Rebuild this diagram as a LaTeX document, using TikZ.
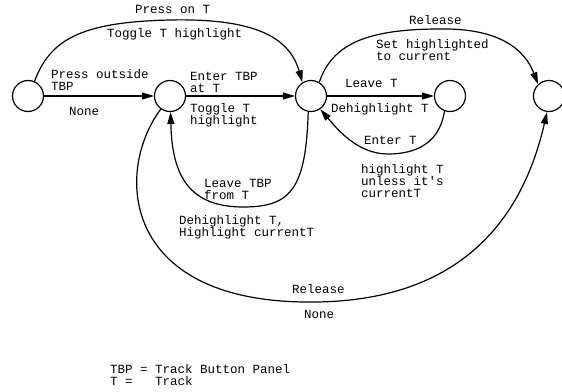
\documentclass[tikz,border=0pt]{standalone}
\usepackage{fontspec}
\setmonofont{Liberation Mono}
\usetikzlibrary{arrows.meta}
\begin{document}
\begin{tikzpicture}[x=1pt,y=-1pt,
  state/.style={circle,draw,line width=1.2pt,minimum size=31pt,inner sep=0pt},
  edge/.style={line width=1.2pt,-{Triangle[length=12pt,width=7pt]}},
  lbl/.style={anchor=base west,inner sep=0pt,align=left,
    font=\ttfamily\fontsize{12.5}{12}\selectfont}]
\useasboundingbox (0,0) rectangle (562,391);

% states
\node[state] (s1) at (28,96) {};
\node[state] (s2) at (170,96) {};
\node[state] (s3) at (311,96) {};
\node[state] (s4) at (450,96) {};
\node[state] (s5) at (549,96) {};

% transitions
\draw[edge] (s1) -- (s2);
\draw[edge] (s2) -- (s3);
\draw[edge] (s3) -- (s4);
\draw[edge] (s1.66) .. controls (50,40) and (80,22) .. (170,20)
  .. controls (260,18) and (290,40) .. (s3.122);
\draw[edge] (s3.59) .. controls (332,45) and (365,29) .. (440,29)
  .. controls (500,28) and (525,50) .. (s5.133);
\draw[edge] (s3.260) .. controls (306,190) and (290,207) .. (243,207)
  .. controls (185,207) and (172,170) .. (s2.272);
\draw[edge] (s4.250) .. controls (440,140) and (420,154) .. (388,154)
  .. controls (358,154) and (338,130) .. (s3.-55);
\draw[edge] (s2.235) .. controls (115,170) and (120,300) .. (305,302)
  .. controls (450,304) and (520,230) .. (s5.263);

% labels (anchored at the baseline of their last line)
\node[lbl] (l1) at (135,13) {Press on T};
\node[lbl] (l2) at (107,37) {Toggle T highlight};
\node[lbl] (l3) at (51,90) {Press outside\\TBP};
\node[lbl] (l4) at (69,115) {None};
\node[lbl] (l5) at (190,92) {Enter TBP\\at T};
\node[lbl] (l6) at (190,124) {Toggle T\\highlight};
\node[lbl] (l7) at (345,87) {Leave T};
\node[lbl] (l8) at (331,112) {Dehighlight T};
\node[lbl] (l9) at (364,144) {Enter T};
\node[lbl] (l10) at (361,197) {highlight T\\unless it's\\currentT};
\node[lbl] (l11) at (409,24) {Release};
\node[lbl] (l12) at (376,60) {Set highlighted\\to current};
\node[lbl] (l13) at (204,199) {Leave TBP\\from T};
\node[lbl] (l14) at (179,236) {Dehighlight T,\\Highlight currentT};
\node[lbl] (l15) at (292,293) {Release};
\node[lbl] (l16) at (304,318) {None};
\node[lbl] (l17) at (110,385) {TBP = Track Button Panel\\T =\ \ \ Track};
\end{tikzpicture}
\end{document}
